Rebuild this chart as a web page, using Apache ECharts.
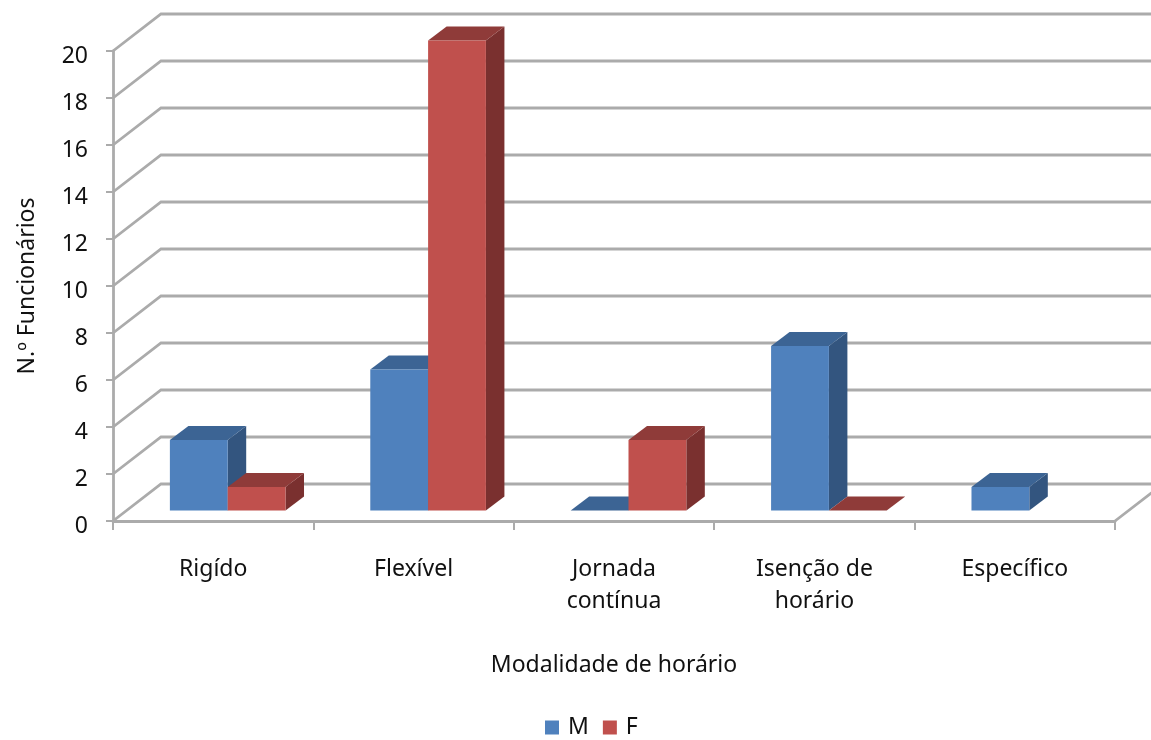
<!DOCTYPE html>
<html>
<head>
<meta charset="utf-8">
<style>html,body{margin:0;padding:0;background:#fff}#c{width:1151px;height:740px}</style>
<script src="https://cdn.jsdelivr.net/npm/echarts@6/dist/echarts.min.js"></script>
</head>
<body>
<div id="c"></div>
<script>
const categories = ['Rigído', 'Flexível', 'Jornada\ncontínua', 'Isenção de\nhorário', 'Específico'];
const seriesM = [3, 6, 0, 7, 1];
const seriesF = [1, 20, 3, 0, null];
const yTicks = [0, 2, 4, 6, 8, 10, 12, 14, 16, 18, 20];

const FONT = 'Noto Sans';
const TEXT = '#111111';
const GRID = '#ababab';
const WALL = [48, -37];      // depth of the 3D box
const BAR_DEPTH = [18.5, -14];
const BAR_INSET = [14.5, -10.5]; // bar front plane relative to the axis plane
const BAR_RATIO = 0.2885;

const chart = echarts.init(document.getElementById('c'));

function wallItem(params, api) {
  const v = api.value(0);
  const p = api.coord([0, v]);
  const cw = api.size([1, 0])[0];
  const left = p[0] - cw / 2;
  const right = left + cw * categories.length;
  const pts = [[left, p[1]], [left + WALL[0], p[1] + WALL[1]], [right + WALL[0], p[1] + WALL[1]]];
  if (v === 0) pts.push([right, p[1]]);
  return {
    type: 'polyline',
    shape: { points: pts },
    style: { stroke: GRID, lineWidth: 2.8, fill: null },
    silent: true
  };
}

function barItem(sign, front, top, side) {
  return function (params, api) {
    const val = api.value(1);
    if (val === null || val === undefined || isNaN(val)) return null;
    const c = api.coord([api.value(0), val]);
    const b = api.coord([api.value(0), 0]);
    const w = api.size([1, 0])[0] * BAR_RATIO;
    const cx = c[0] + BAR_INSET[0];
    const x0 = sign < 0 ? cx - w : cx;
    const x1 = x0 + w;
    const yt = c[1] + BAR_INSET[1];
    const yb = b[1] + BAR_INSET[1];
    const dx = BAR_DEPTH[0], dy = BAR_DEPTH[1];
    const children = [];
    children.push({ type: 'polygon', shape: { points: [[x1, yt], [x1 + dx, yt + dy], [x1 + dx, yb + dy], [x1, yb]] }, style: { fill: side } });
    children.push({ type: 'polygon', shape: { points: [[x0, yt], [x0 + dx, yt + dy], [x1 + dx, yt + dy], [x1, yt]] }, style: { fill: top } });
    if (val > 0) children.push({ type: 'rect', shape: { x: x0, y: yt, width: w, height: yb - yt }, style: { fill: front } });
    return { type: 'group', children };
  };
}

chart.setOption({
  animation: false,
  backgroundColor: '#fff',
  grid: { left: 113, right: 36, top: 51, bottom: 219, containLabel: false, outerBoundsMode: 'none' },
  legend: {
    data: ['M', 'F'],
    left: 540,
    top: 711,
    icon: 'rect',
    itemWidth: 14,
    itemHeight: 14,
    itemGap: 14,
    textStyle: { fontFamily: FONT, fontSize: 23, color: TEXT, padding: [0, 0, 0, 4], verticalAlign: 'top', lineHeight: 10 }
  },
  xAxis: {
    type: 'category',
    data: categories,
    name: 'Modalidade de horário',
    nameLocation: 'middle',
    nameGap: 133,
    nameTextStyle: { fontFamily: FONT, fontSize: 23, color: TEXT },
    axisLine: { lineStyle: { color: GRID, width: 2.8 } },
    axisTick: { show: true, length: 9, alignWithLabel: false, lineStyle: { color: GRID, width: 2 } },
    axisLabel: { fontFamily: FONT, fontSize: 23, color: TEXT, margin: 32, lineHeight: 32, interval: 0 },
    splitLine: { show: false }
  },
  yAxis: {
    type: 'value',
    min: 0,
    max: 20,
    interval: 2,
    name: 'N.º Funcionários',
    nameLocation: 'middle',
    nameGap: 74,
    nameRotate: 90,
    nameTextStyle: { fontFamily: FONT, fontSize: 23, color: TEXT },
    axisLine: { show: true, lineStyle: { color: GRID, width: 2.8 } },
    axisTick: { show: true, length: 7, lineStyle: { color: GRID, width: 2 } },
    axisLabel: { fontFamily: FONT, fontSize: 23, color: TEXT, margin: 25, verticalAlign: 'top', lineHeight: 10 },
    splitLine: { show: false }
  },
  series: [
    {
      name: 'wall',
      type: 'custom',
      renderItem: wallItem,
      data: yTicks.map(v => [v]),
      encode: { x: [], y: 0 },
      silent: true,
      z: 1
    },
    {
      name: 'M',
      type: 'custom',
      renderItem: barItem(-1, '#4f81bd', '#3c6494', '#33557f'),
      itemStyle: { color: '#4f81bd' },
      data: seriesM.map((v, i) => [i, v]),
      encode: { x: 0, y: 1 },
      z: 3
    },
    {
      name: 'F',
      type: 'custom',
      renderItem: barItem(1, '#c0504d', '#8f3b39', '#7a302f'),
      itemStyle: { color: '#c0504d' },
      data: seriesF.map((v, i) => [i, v]),
      encode: { x: 0, y: 1 },
      z: 4
    }
  ]
});
</script>
</body>
</html>
